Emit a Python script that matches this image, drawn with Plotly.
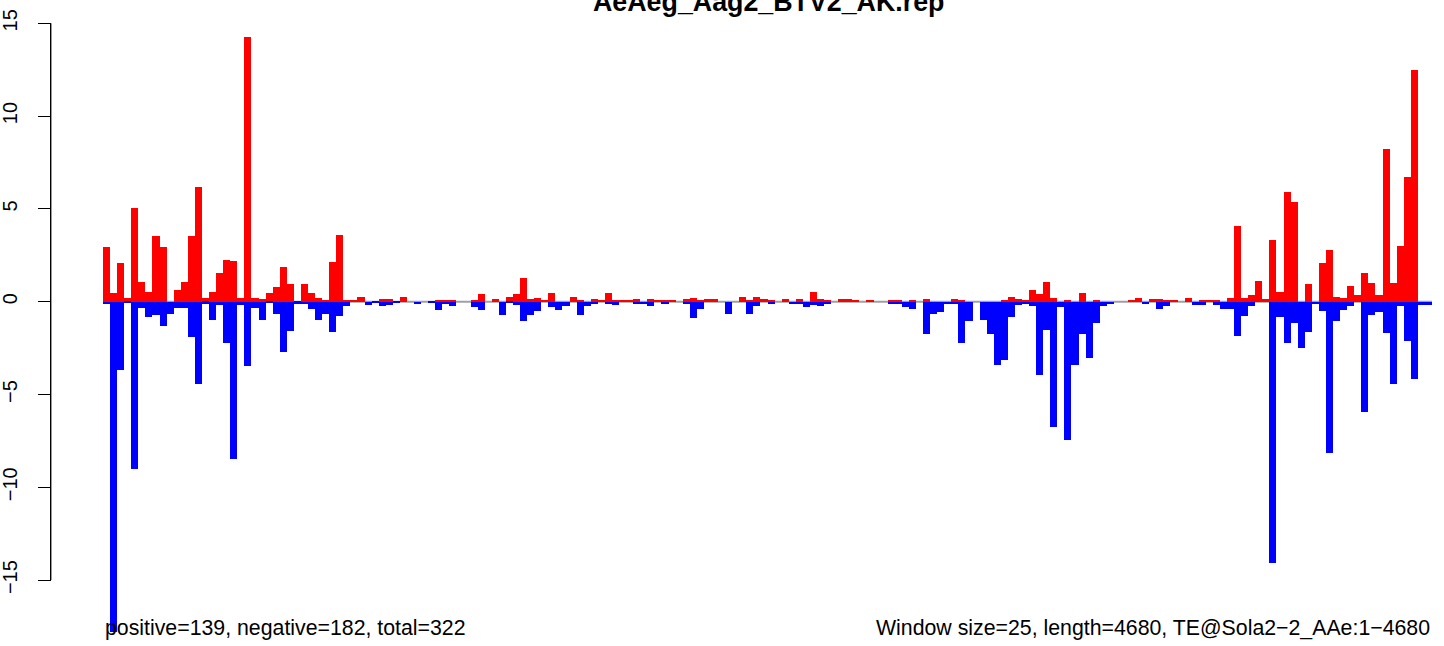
import plotly.graph_objects as go

# ---- data ----
title_text = "AeAeg_Aag2_BTV2_AK.rep"
left_note = "positive=139, negative=182, total=322"
right_note = "Window size=25, length=4680, TE@Sola2\u22122_AAe:1\u22124680"

positive = [
    2.96, 0.45, 2.09, 0.21, 5.06, 1.04, 0.53, 3.55, 2.96, 0.00,
    0.64, 1.04, 3.55, 6.19, 0.21, 0.53, 1.57, 2.26, 2.21, 0.21,
    14.28, 0.21, 0.15, 0.49, 0.79, 1.87, 0.95, 0.00, 0.95, 0.47,
    0.20, 0.09, 2.14, 3.59, 0.09, 0.09, 0.25, 0.00, 0.00, 0.14,
    0.14, 0.00, 0.25, 0.00, 0.00, 0.00, 0.00, 0.09, 0.09, 0.09,
    0.00, 0.00, 0.09, 0.41, 0.00, 0.14, 0.00, 0.25, 0.41, 1.26,
    0.15, 0.18, 0.07, 0.45, 0.00, 0.00, 0.23, 0.07, 0.00, 0.14,
    0.07, 0.45, 0.07, 0.07, 0.07, 0.14, 0.00, 0.14, 0.07, 0.07,
    0.07, 0.00, 0.14, 0.18, 0.07, 0.14, 0.14, 0.00, 0.00, 0.00,
    0.23, 0.09, 0.24, 0.16, 0.09, 0.00, 0.16, 0.00, 0.16, 0.00,
    0.54, 0.16, 0.09, 0.00, 0.16, 0.16, 0.09, 0.00, 0.09, 0.00,
    0.00, 0.09, 0.09, 0.00, 0.09, 0.00, 0.16, 0.00, 0.00, 0.00,
    0.16, 0.09, 0.00, 0.00, 0.00, 0.00, 0.00, 0.09, 0.25, 0.14,
    0.09, 0.63, 0.41, 1.06, 0.20, 0.00, 0.09, 0.00, 0.47, 0.00,
    0.09, 0.00, 0.00, 0.00, 0.00, 0.09, 0.20, 0.00, 0.14, 0.14,
    0.09, 0.09, 0.00, 0.20, 0.00, 0.09, 0.09, 0.09, 0.00, 0.20,
    4.08, 0.20, 0.36, 1.13, 0.14, 3.32, 0.52, 5.91, 5.37, 0.00,
    0.95, 0.00, 2.08, 2.79, 0.25, 0.20, 0.84, 0.36, 1.55, 1.01,
    0.36, 8.23, 1.01, 3.00, 6.72, 12.49, 0.00, 0.00,
]

negative = [
    -0.15, -17.80, -3.70, -0.06, -9.02, -0.36, -0.83, -0.70, -1.32, -0.64,
    -0.36, -0.36, -1.91, -4.45, -0.10, -0.96, -0.19, -2.23, -8.49, -0.19,
    -3.49, -0.36, -1.00, -0.06, -0.66, -2.70, -1.56, -0.10, -0.13, -0.38,
    -0.97, -0.65, -1.62, -0.75, -0.22, 0.00, 0.00, -0.16, -0.09, -0.22,
    -0.16, -0.09, 0.00, 0.00, -0.11, 0.00, -0.09, -0.43, -0.13, -0.22,
    0.00, 0.00, -0.27, -0.43, 0.00, 0.00, -0.70, -0.05, -0.17, -1.04,
    -0.72, -0.50, 0.00, -0.31, -0.45, -0.23, 0.00, -0.72, -0.23, -0.14,
    0.00, -0.14, -0.18, 0.00, 0.00, -0.13, -0.13, -0.23, 0.00, -0.13,
    0.00, 0.00, -0.13, -0.88, -0.40, 0.00, 0.00, 0.00, -0.66, 0.00,
    0.00, -0.66, -0.22, 0.00, -0.11, 0.00, 0.00, -0.11, -0.11, -0.27,
    -0.16, -0.22, -0.11, 0.00, 0.00, 0.00, 0.00, 0.00, 0.00, 0.00,
    0.00, -0.11, -0.11, -0.27, -0.38, 0.00, -1.73, -0.65, -0.54, -0.14,
    -0.14, -2.20, -1.02, 0.00, -0.97, -1.73, -3.40, -3.13, -0.81, -0.20,
    -0.14, -0.22, -3.94, -1.53, -6.74, -0.29, -7.44, -3.40, -1.73, -3.02,
    -1.13, -0.22, -0.11, 0.00, 0.00, 0.00, 0.00, -0.11, 0.00, -0.38,
    -0.22, 0.00, 0.00, 0.00, -0.16, -0.16, 0.00, -0.16, -0.38, -0.38,
    -1.83, -0.75, -0.22, 0.00, 0.00, -14.07, -0.83, -2.21, -1.13, -2.48,
    -1.62, -0.11, -0.49, -8.14, -1.02, -0.43, -0.22, 0.00, -5.95, -0.70,
    -0.54, -1.67, -4.42, -0.22, -2.10, -4.15, -0.16, -0.16,
]

bins = list(range(len(positive)))
y_ticks = [-15, -10, -5, 0, 5, 10, 15]

# ---- figure ----
W, H = 1444, 646
FONT = "Liberation Sans, Arial, Helvetica, sans-serif"

# pixel geometry of the reference
bar_left_px, bar_right_px = 103.0, 1432.0
px_per_bin = (bar_right_px - bar_left_px) / len(bins)
zero_px, top_tick_px = 301.7, 23.3
px_per_unit = (zero_px - top_tick_px) / 15.0

x_lo = -0.5 - bar_left_px / px_per_bin
x_hi = x_lo + W / px_per_bin
y_hi = zero_px / px_per_unit
y_lo = -(H - zero_px) / px_per_unit

fig = go.Figure()
fig.add_trace(go.Bar(x=bins, y=positive, marker=dict(color="#FF0000", line=dict(width=0)),
                     name="positive", hoverinfo="y"))
fig.add_trace(go.Bar(x=bins, y=negative, marker=dict(color="#0000FF", line=dict(width=0)),
                     name="negative", hoverinfo="y"))

axis_x_px = 50.7
fig.update_layout(
    width=W, height=H,
    margin=dict(l=0, r=0, t=0, b=0, pad=0),
    paper_bgcolor="white", plot_bgcolor="white",
    barmode="overlay", bargap=0,
    showlegend=False,
    font=dict(family=FONT, color="black"),
    xaxis=dict(range=[x_lo, x_hi], visible=False, fixedrange=True),
    yaxis=dict(range=[y_lo, y_hi], anchor="free", position=axis_x_px / W,
               showline=False, showgrid=False, zeroline=False,
               ticks="outside", ticklen=13, tickwidth=1.4, tickcolor="black",
               tickmode="array", tickvals=y_ticks,
               tickangle=-90, tickfont=dict(size=20, family=FONT, color="black"),
               ticklabelstandoff=13, fixedrange=True),
)

# zero reference line (below bars)
fig.add_shape(type="line", xref="x", yref="y", x0=-0.5, x1=len(bins) - 0.5, y0=0, y1=0,
              line=dict(color="#A0A0A0", width=2), layer="below")
# y axis line spanning the tick range
fig.add_shape(type="line", xref="paper", yref="y", x0=axis_x_px / W, x1=axis_x_px / W,
              y0=min(y_ticks), y1=max(y_ticks), line=dict(color="black", width=1.4))

# title (partly clipped at top, as in reference)
fig.add_annotation(text="<b>" + title_text + "</b>", xref="paper", yref="paper",
                   x=768 / W, y=1 - 2 / H, xanchor="center", yanchor="middle",
                   showarrow=False, font=dict(size=26.8, family=FONT, color="black"))
# bottom notes
fig.add_annotation(text=left_note, xref="x", yref="paper", x=-0.5, y=1 - 628 / H,
                   xanchor="left", yanchor="middle", showarrow=False,
                   font=dict(size=21.3, family=FONT, color="black"))
fig.add_annotation(text=right_note, xref="x", yref="paper", x=len(bins) - 0.5, y=1 - 628 / H,
                   xanchor="right", yanchor="middle", showarrow=False,
                   font=dict(size=21.3, family=FONT, color="black"))

fig.write_html("out.html", config={"displayModeBar": False},
               post_script="document.body.style.margin='0';document.body.style.overflow='hidden';")
